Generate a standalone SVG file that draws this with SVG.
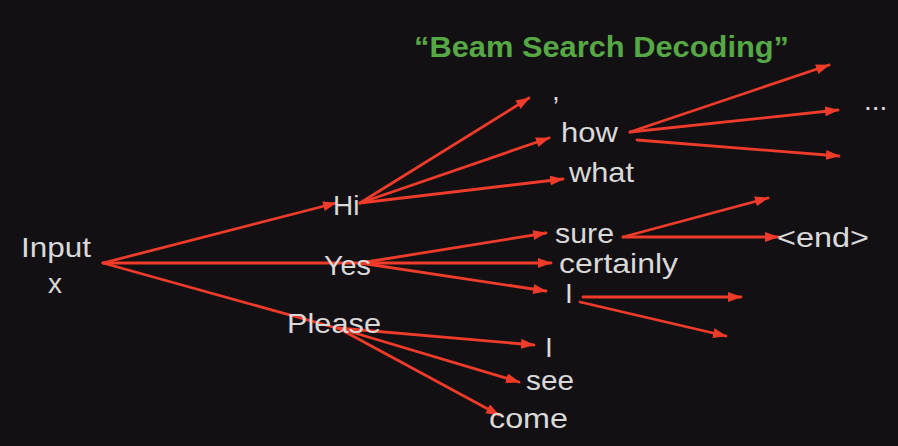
<svg xmlns="http://www.w3.org/2000/svg" width="898" height="446" viewBox="0 0 898 446">
<defs>
<style>
.lbl{font-family:"Liberation Sans",Arial,sans-serif;font-size:28px;fill:#d9d9d9}
.title{font-family:"Liberation Sans",Arial,sans-serif;font-size:30px;font-weight:bold;fill:#56a845}
.c line{stroke:#ee3b2a;stroke-width:2.8;stroke-linecap:round}
.a{marker-end:url(#ah)}
</style>
<marker id="ah" markerUnits="userSpaceOnUse" markerWidth="14" markerHeight="12" refX="13" refY="5" orient="auto">
<path d="M0,0 L14,5 L0,10 Z" fill="#ee3b2a"/>
</marker>
</defs>
<rect width="898" height="446" fill="#131013"/>
<text class="title" x="414" y="57" textLength="375" lengthAdjust="spacingAndGlyphs">“Beam Search Decoding”</text>
<g class="c" id="connectors">
<line class="a" x1="103" y1="263" x2="336" y2="203"/>
<line x1="103" y1="263" x2="345" y2="263"/>
<line x1="103" y1="263" x2="340" y2="329"/>
<line class="a" x1="360" y1="203" x2="529" y2="98"/>
<line class="a" x1="360" y1="203" x2="549" y2="138"/>
<line class="a" x1="360" y1="203" x2="563" y2="179"/>
<line class="a" x1="630" y1="132" x2="829" y2="65"/>
<line class="a" x1="630" y1="132" x2="838" y2="110"/>
<line class="a" x1="637" y1="140" x2="839" y2="156"/>
<line class="a" x1="360" y1="263" x2="546" y2="233"/>
<line class="a" x1="345" y1="263" x2="551" y2="263"/>
<line class="a" x1="360" y1="263" x2="546" y2="291"/>
<line class="a" x1="623" y1="237" x2="768" y2="198"/>
<line class="a" x1="623" y1="237" x2="778" y2="237"/>
<line class="a" x1="583" y1="297" x2="741" y2="297"/>
<line class="a" x1="580" y1="302" x2="726" y2="336"/>
<line class="a" x1="338" y1="328" x2="534" y2="345"/>
<line class="a" x1="338" y1="328" x2="519" y2="382"/>
<line class="a" x1="338" y1="328" x2="499" y2="415"/>
</g>
<g id="n-input"><text class="lbl" x="21" y="257" textLength="70" lengthAdjust="spacingAndGlyphs">Input</text><text class="lbl" x="55" y="293" text-anchor="middle">x</text></g>
<g id="n-hi"><text class="lbl" x="333" y="215">Hi</text></g>
<g id="n-yes"><text class="lbl" x="324" y="275" textLength="47" lengthAdjust="spacingAndGlyphs">Yes</text></g>
<g id="n-please"><text class="lbl" x="287" y="333" textLength="94" lengthAdjust="spacingAndGlyphs">Please</text></g>
<g id="n-comma"><text class="lbl" x="552" y="100">,</text></g>
<g id="n-how"><text class="lbl" x="561" y="142" textLength="57" lengthAdjust="spacingAndGlyphs">how</text></g>
<g id="n-what"><text class="lbl" x="569" y="182" textLength="65" lengthAdjust="spacingAndGlyphs">what</text></g>
<g id="n-dots"><text class="lbl" x="864" y="110" fill="#bbbbbb">...</text></g>
<g id="n-sure"><text class="lbl" x="555" y="243" textLength="59" lengthAdjust="spacingAndGlyphs">sure</text></g>
<g id="n-certainly"><text class="lbl" x="559" y="273" textLength="119" lengthAdjust="spacingAndGlyphs">certainly</text></g>
<g id="n-i1"><text class="lbl" x="565" y="303">I</text></g>
<g id="n-end"><text class="lbl" x="777" y="247" textLength="92" lengthAdjust="spacingAndGlyphs">&lt;end&gt;</text></g>
<g id="n-i2"><text class="lbl" x="545" y="357">I</text></g>
<g id="n-see"><text class="lbl" x="526" y="390" textLength="48" lengthAdjust="spacingAndGlyphs">see</text></g>
<g id="n-come"><text class="lbl" x="489" y="428" textLength="79" lengthAdjust="spacingAndGlyphs">come</text></g>
</svg>
